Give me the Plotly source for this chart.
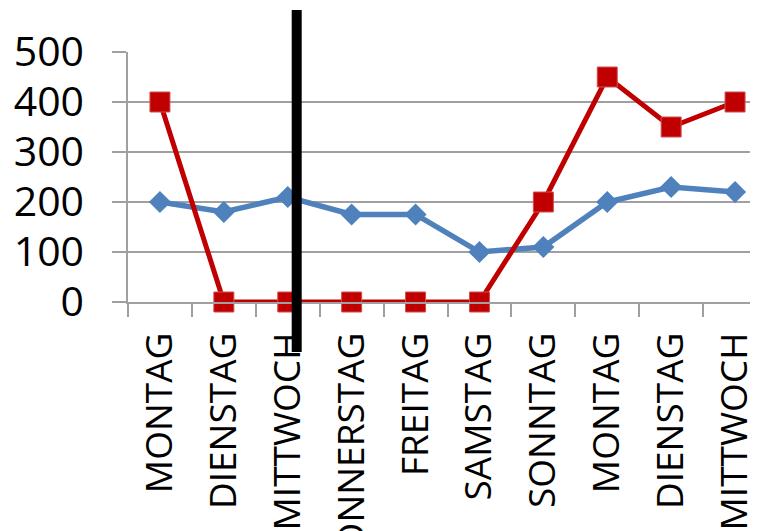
import plotly.graph_objects as go

categories = ["MONTAG", "DIENSTAG", "MITTWOCH", "DONNERSTAG", "FREITAG",
              "SAMSTAG", "SONNTAG", "MONTAG", "DIENSTAG", "MITTWOCH"]
blue_values = [200, 180, 210, 175, 175, 100, 110, 200, 230, 220]
red_values = [400, 0, 0, 0, 0, 0, 200, 450, 350, 400]
y_ticks = [0, 100, 200, 300, 400, 500]
marker_pos = 2.14  # position of the vertical black marker line (category units)

x = list(range(len(categories)))
boundaries = [i - 0.5 for i in range(len(categories) + 1)]

GRID = "#a0a0a0"
PX_PER_CAT = 63.9
LEFT, TOP, PLOT_H = 120, 44, 250
PLOT_W = 758 - LEFT

fig = go.Figure()
fig.add_trace(go.Scatter(
    x=x, y=blue_values, mode="lines+markers",
    line=dict(color="#4F81BD", width=5.5),
    marker=dict(symbol="diamond", size=17, color="#4F81BD"),
    cliponaxis=False, showlegend=False,
))
fig.add_trace(go.Scatter(
    x=x, y=red_values, mode="lines+markers",
    line=dict(color="#C00000", width=5),
    marker=dict(symbol="square", size=20, color="#C00000",
                line=dict(color="#D05050", width=1)),
    cliponaxis=False, showlegend=False,
))

fig.add_shape(type="line", xref="x", yref="paper",
              x0=marker_pos, x1=marker_pos, y0=-0.2, y1=1.168,
              line=dict(color="black", width=10), layer="above")

fig.update_layout(
    width=758, height=531,
    margin=dict(l=LEFT, r=0, t=TOP, b=531 - TOP - PLOT_H, pad=0),
    paper_bgcolor="white", plot_bgcolor="white",
    xaxis=dict(
        range=[-0.5, -0.5 + PLOT_W / PX_PER_CAT],
        tickmode="array", tickvals=x, ticktext=categories,
        tickangle=-90, ticks="",
        ticklabelstandoff=14,
        tickfont=dict(family="Open Sans", size=37, color="black"),
        showgrid=False, zeroline=False,
        showline=True, linecolor=GRID, linewidth=1.5,
        minor=dict(tickmode="array", tickvals=boundaries, ticks="outside",
                   ticklen=13, tickcolor=GRID, tickwidth=1.5, showgrid=False),
        automargin=False, fixedrange=True,
    ),
    yaxis=dict(
        range=[0, 500],
        tickmode="array", tickvals=y_ticks,
        ticks="outside", ticklen=14, tickcolor=GRID, tickwidth=1.5,
        ticklabelstandoff=20,
        tickfont=dict(family="Open Sans", size=41, color="black"),
        showgrid=True, gridcolor=GRID, gridwidth=1.5,
        zeroline=False,
        showline=True, linecolor=GRID, linewidth=1.5,
        automargin=False, fixedrange=True,
    ),
)

fig.write_html("out.html")
